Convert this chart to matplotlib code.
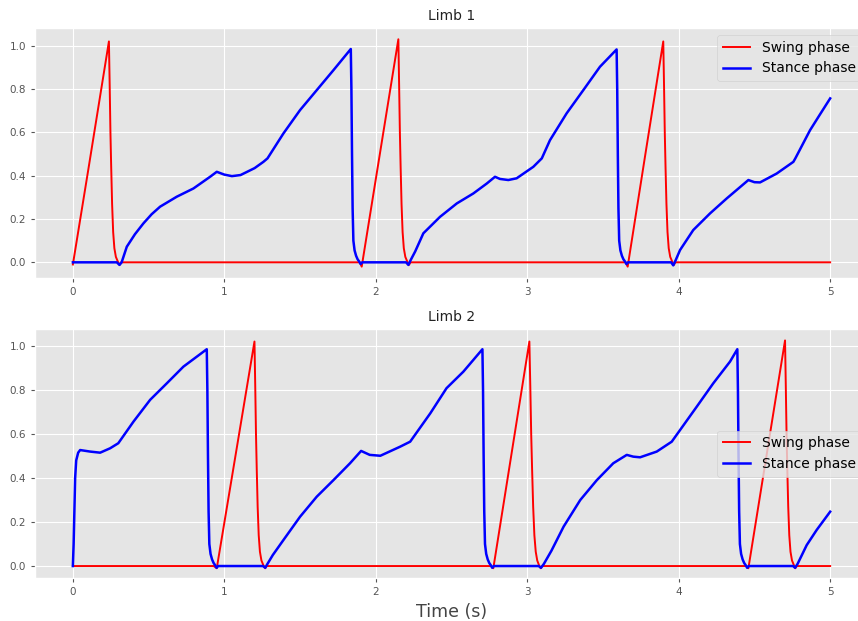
import matplotlib
matplotlib.use("Agg")
import matplotlib.pyplot as plt

plt.style.use("ggplot")
plt.rcParams['font.family'] = ['DejaVu Sans']

# ---------------- Limb 1 ----------------
limb1_swing_t = [0.0, 0.1, 0.238, 0.243, 0.248, 0.253, 0.259, 0.266, 0.274, 0.284, 0.296, 0.308, 0.318,
                 1.895, 1.907, 2.006, 2.149, 2.154, 2.159, 2.164, 2.170, 2.177, 2.185, 2.195, 2.207, 2.219, 2.229,
                 3.650, 3.663, 3.780, 3.898, 3.903, 3.908, 3.913, 3.919, 3.926, 3.934, 3.944, 3.956, 3.968, 3.978,
                 5.0]
limb1_swing_y = [-0.01, 0.42, 1.02, 0.82, 0.60, 0.44, 0.27, 0.14, 0.065, 0.025, 0.005, -0.012, 0.0,
                 0.0, -0.02, 0.41, 1.03, 0.82, 0.60, 0.44, 0.27, 0.14, 0.065, 0.025, 0.005, -0.012, 0.0,
                 0.0, -0.02, 0.50, 1.02, 0.82, 0.60, 0.44, 0.27, 0.14, 0.065, 0.025, 0.005, -0.012, 0.0,
                 0.0]

limb1_stance_t = [0.0, 0.29, 0.308, 0.322, 0.356, 0.41, 0.466, 0.52, 0.576, 0.686, 0.796, 0.906, 0.95,
                  1.0, 1.05, 1.107, 1.2, 1.258, 1.285, 1.39, 1.5, 1.61, 1.72, 1.835,
                  1.839, 1.843, 1.847, 1.852, 1.860, 1.870, 1.880, 1.890, 1.900, 1.910,
                  2.2, 2.215, 2.23, 2.26, 2.314, 2.424, 2.535, 2.644, 2.733, 2.787, 2.82, 2.875, 2.93,
                  3.04, 3.096, 3.15, 3.26, 3.37, 3.48, 3.59,
                  3.594, 3.598, 3.602, 3.607, 3.615, 3.625, 3.635, 3.645, 3.655, 3.665,
                  3.95, 3.964, 3.98, 4.009, 4.096, 4.207, 4.317, 4.46, 4.5, 4.537, 4.647, 4.757,
                  4.77, 4.867, 4.93, 5.0]
limb1_stance_y = [0.0, 0.0, -0.012, 0.0, 0.072, 0.13, 0.18, 0.222, 0.257, 0.303, 0.341, 0.395, 0.418,
                  0.405, 0.398, 0.403, 0.435, 0.464, 0.48, 0.595, 0.703, 0.795, 0.887, 0.985,
                  0.80, 0.50, 0.25, 0.10, 0.055, 0.03, 0.014, 0.004, -0.008, 0.0,
                  0.0, -0.012, 0.01, 0.05, 0.134, 0.21, 0.272, 0.318, 0.364, 0.395, 0.385, 0.38, 0.388,
                  0.441, 0.48, 0.564, 0.688, 0.795, 0.903, 0.983,
                  0.80, 0.50, 0.25, 0.10, 0.055, 0.03, 0.014, 0.004, -0.008, 0.0,
                  0.0, -0.014, 0.01, 0.057, 0.149, 0.226, 0.295, 0.38, 0.37, 0.369, 0.41, 0.464,
                  0.48, 0.61, 0.68, 0.757]

# ---------------- Limb 2 ----------------
limb2_swing_t = [0.0, 0.93, 0.95, 1.199, 1.204, 1.209, 1.214, 1.220, 1.227, 1.235, 1.245, 1.257, 1.270, 1.280,
                 2.76, 2.776, 3.014, 3.020, 3.026, 3.032, 3.039, 3.047, 3.056, 3.066, 3.077, 3.089, 3.099,
                 4.445, 4.46, 4.702, 4.707, 4.712, 4.717, 4.723, 4.730, 4.738, 4.748, 4.760, 4.770, 4.780,
                 5.0]
limb2_swing_y = [0.0, 0.0, -0.01, 1.02, 0.82, 0.60, 0.44, 0.27, 0.14, 0.065, 0.025, 0.005, -0.01, 0.0,
                 0.0, -0.01, 1.02, 0.82, 0.60, 0.44, 0.27, 0.14, 0.065, 0.025, 0.005, -0.01, 0.0,
                 0.0, -0.01, 1.025, 0.82, 0.60, 0.44, 0.27, 0.14, 0.065, 0.025, 0.005, -0.01, 0.0,
                 0.0]

limb2_stance_t = [0.0, 0.005, 0.01, 0.015, 0.022, 0.035, 0.048, 0.114, 0.18, 0.246, 0.30, 0.4, 0.51,
                  0.62, 0.73, 0.884,
                  0.888, 0.892, 0.896, 0.901, 0.909, 0.919, 0.929, 0.939, 0.949, 0.959,
                  1.255, 1.27, 1.285, 1.32, 1.39, 1.5, 1.61, 1.72, 1.83, 1.903, 1.96, 2.03, 2.16,
                  2.227, 2.36, 2.467, 2.578, 2.704,
                  2.708, 2.712, 2.716, 2.721, 2.729, 2.739, 2.749, 2.759, 2.769, 2.779,
                  3.075, 3.091, 3.11, 3.16, 3.24, 3.35, 3.459, 3.568, 3.657, 3.70, 3.745, 3.855,
                  3.954, 4.009, 4.119, 4.228, 4.339, 4.387,
                  4.391, 4.395, 4.399, 4.404, 4.412, 4.422, 4.432, 4.442, 4.452, 4.462,
                  4.755, 4.768, 4.785, 4.845, 4.911, 5.0]
limb2_stance_y = [0.0, 0.10, 0.25, 0.40, 0.48, 0.515, 0.527, 0.52, 0.515, 0.535, 0.558, 0.656, 0.755,
                  0.83, 0.906, 0.985,
                  0.80, 0.50, 0.25, 0.10, 0.055, 0.03, 0.014, 0.004, -0.008, 0.0,
                  0.0, -0.008, 0.01, 0.05, 0.118, 0.224, 0.315, 0.39, 0.467, 0.523, 0.505, 0.501, 0.542,
                  0.565, 0.694, 0.808, 0.883, 0.985,
                  0.80, 0.50, 0.25, 0.10, 0.055, 0.03, 0.014, 0.004, -0.008, 0.0,
                  0.0, -0.008, 0.01, 0.07, 0.179, 0.30, 0.39, 0.467, 0.505, 0.497, 0.494, 0.52,
                  0.565, 0.618, 0.724, 0.83, 0.929, 0.985,
                  0.80, 0.50, 0.25, 0.10, 0.055, 0.03, 0.014, 0.004, -0.008, 0.0,
                  0.0, -0.008, 0.01, 0.095, 0.164, 0.247]

titles = ["Limb 1", "Limb 2"]
legend_labels = ["Swing phase", "Stance phase"]
x_ticks = [0, 1, 2, 3, 4, 5]
y_ticks = [0.0, 0.2, 0.4, 0.6, 0.8, 1.0]

fig = plt.figure(figsize=(8.58, 6.21), dpi=100)
ax1 = fig.add_axes([0.0408, 0.5523, 0.9709, 0.4026])
ax2 = fig.add_axes([0.0408, 0.0692, 0.9709, 0.4005])

series = [
    (ax1, limb1_swing_t, limb1_swing_y, limb1_stance_t, limb1_stance_y, (-0.0725, 1.082), "upper right"),
    (ax2, limb2_swing_t, limb2_swing_y, limb2_stance_t, limb2_stance_y, (-0.0545, 1.0755), "center right"),
]

for i, (ax, st, sy, ct, cy, ylim, loc) in enumerate(series):
    ax.plot(st, sy, color="#ff0000", lw=1.4, label=legend_labels[0])
    ax.plot(ct, cy, color="#0000ff", lw=1.8, label=legend_labels[1])
    ax.set_xlim(-0.25, 5.25)
    ax.set_ylim(*ylim)
    ax.set_xticks(x_ticks)
    ax.set_xticklabels([str(v) for v in x_ticks])
    ax.set_yticks(y_ticks)
    ax.set_yticklabels([f"{v:.1f}" for v in y_ticks])
    ax.tick_params(labelsize=7.5, colors="#555555", length=3)
    ax.set_title(titles[i], fontsize=10, color="#222222", pad=6)
    leg = ax.legend(loc=loc, fontsize=10, frameon=True)

ax2.set_xlabel("Time (s)", fontsize=12.5, color="#444444", labelpad=4)

fig.savefig("out.png", dpi=100)
